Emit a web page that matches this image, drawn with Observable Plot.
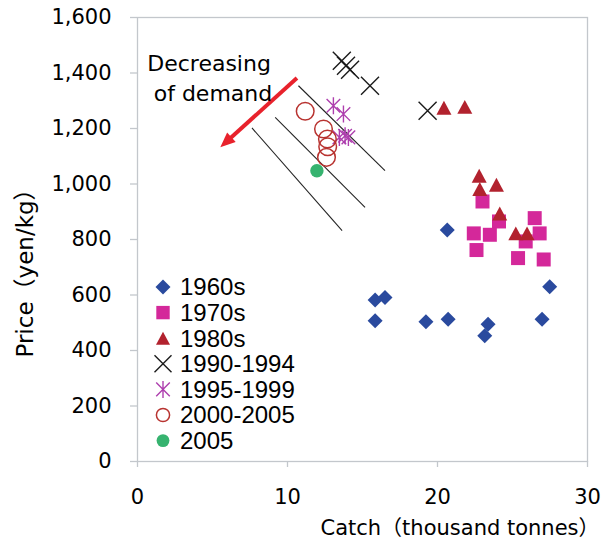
<!DOCTYPE html>
<html><head><meta charset="utf-8">
<script src="https://cdn.jsdelivr.net/npm/d3@7"></script>
<script src="https://cdn.jsdelivr.net/npm/@observablehq/plot@0.6"></script>
<style>
body{margin:0;background:#fff;}
#wrap{position:relative;width:603px;height:542px;}
#legend{position:absolute;left:0;top:0;pointer-events:none;}
</style></head><body><div id="wrap"></div>
<script>
// ---- data (catch in thousand tonnes, price in yen/kg) ----
const catch1960s = [20.65, 15.84, 16.5, 15.84, 19.23, 20.71, 23.37, 23.15, 27.48, 26.97];
const price1960s = [834, 582, 591, 507, 504, 513, 495, 453, 630, 513];
const catch1970s = [23.0, 24.1, 26.48, 22.42, 23.49, 26.81, 25.88, 22.6, 25.37, 27.08];
const price1970s = [937, 865, 877, 822, 817, 822, 793, 762, 733, 728];
const catch1980s = [20.43, 21.82, 22.78, 22.82, 23.93, 24.15, 25.22, 25.97];
const price1980s = [1275, 1278, 1030, 982, 997, 894, 822, 822];
const catch1990_94 = [13.62, 13.9, 14.17, 15.5, 19.34];
const price1990_94 = [1444, 1426, 1412, 1354, 1264];
const catch1995_99 = [13.06, 13.73, 13.46, 13.84, 14.06];
const price1995_99 = [1282, 1252, 1168, 1174, 1168];
const catch2000_05 = [11.18, 12.4, 12.66, 12.68, 12.6];
const price2000_05 = [1262, 1198, 1162, 1134, 1096];
const catch2005 = [11.96];
const price2005 = [1048];

const legendLabels = ["1960s", "1970s", "1980s", "1990-1994", "1995-1999", "2000-2005", "2005"];
const xTicks = [0, 10, 20, 30];
const yTicks = [0, 200, 400, 600, 800, 1000, 1200, 1400, 1600];
const xTitle = "Catch（thousand tonnes）";
const yTitle = "Price（yen/kg）";

// annotation: demand lines, arrow, text (data units)
const demandX1 = [10.73, 9.18, 7.63];
const demandY1 = [1354, 1240, 1202];
const demandX2 = [16.5, 15.17, 13.64];
const demandY2 = [1048, 916, 832];
const arrowX = [10.63, 5.52];
const arrowY = [1382, 1132];
const noteText = ["Decreasing", "of demand"];
const noteX = [0.65, 1.08];
const noteY = [1432, 1324];

// ---- layout ----
const W = 603, H = 542, mL = 137, mR = 16, mT = 17, mB = 81;
const xS = d3.scaleLinear([0, 30], [mL, W - mR]);
const yS = d3.scaleLinear([0, 1600], [H - mB, mT]);

// ---- symbols ----
const rad = (size) => Math.sqrt(size / Math.PI);
const symDiamond = {draw(c, s){const r=rad(s); c.moveTo(0,-r); c.lineTo(r,0); c.lineTo(0,r); c.lineTo(-r,0); c.closePath();}};
const symSquare = {draw(c, s){const r=rad(s); c.moveTo(-r,-r); c.lineTo(r,-r); c.lineTo(r,r); c.lineTo(-r,r); c.closePath();}};
const symTriangle = {draw(c, s){const r=rad(s); const h=0.93*r; c.moveTo(0,-h); c.lineTo(r,h); c.lineTo(-r,h); c.closePath();}};
const symTimes = {draw(c, s){const r=rad(s); c.moveTo(-r,-r); c.lineTo(r,r); c.moveTo(-r,r); c.lineTo(r,-r);}};
const symStar = {draw(c, s){const r=rad(s); const a=r*0.8; c.moveTo(-a,-a); c.lineTo(a,a); c.moveTo(-a,a); c.lineTo(a,-a); c.moveTo(0,-r); c.lineTo(0,r);}};
const symCircle = {draw(c, s){const r=rad(s); c.moveTo(r,0); c.arc(0,0,r,0,2*Math.PI);}};
const symHead = {draw(c, s){const r=rad(s); c.moveTo(0,0); c.lineTo(-2*r,-0.85*r); c.lineTo(-2*r,0.85*r); c.closePath();}};

const cBlue = "#2a4a9e", cMag = "#d4289a", cRed = "#b2222e", cBlack = "#1a1a1a",
      cPurple = "#ae3fae", cCircle = "#b83330", cGreen = "#36b36f", cArrow = "#e8222c";

const series = [
  {label: legendLabels[0], xs: catch1960s, ys: price1960s, sym: symDiamond, r: 7.5, fill: cBlue, stroke: "none", sw: 0, lr: 7.5},
  {label: legendLabels[1], xs: catch1970s, ys: price1970s, sym: symSquare, r: 7, fill: cMag, stroke: "none", sw: 0, lr: 6.7},
  {label: legendLabels[2], xs: catch1980s, ys: price1980s, sym: symTriangle, r: 7.5, fill: cRed, stroke: "none", sw: 0, lr: 7},
  {label: legendLabels[3], xs: catch1990_94, ys: price1990_94, sym: symTimes, r: 9, fill: "none", stroke: cBlack, sw: 1.4, lr: 8.5},
  {label: legendLabels[4], xs: catch1995_99, ys: price1995_99, sym: symStar, r: 8.5, fill: "none", stroke: cPurple, sw: 1.4, lr: 8.5},
  {label: legendLabels[5], xs: catch2000_05, ys: price2000_05, sym: symCircle, r: 8.8, fill: "none", stroke: cCircle, sw: 1.5, lr: 6.6},
  {label: legendLabels[6], xs: catch2005, ys: price2005, sym: symCircle, r: 6.7, fill: cGreen, stroke: "none", sw: 0, lr: 6.4}
];

const font = "'Liberation Sans', Arial, 'Noto Sans CJK JP', sans-serif";
const wideFont = "'DejaVu Sans', 'Noto Sans CJK JP', sans-serif";
const gray = "#c3c7cc";

const dotMarks = series.map(s => Plot.dot(d3.zip(s.xs, s.ys), {
  x: d => d[0], y: d => d[1], symbol: s.sym, r: s.r,
  fill: s.fill, stroke: s.stroke, strokeWidth: s.sw
}));

const demand = d3.range(demandX1.length);

// arrow geometry in screen space (for the filled head)
const ax0 = xS(arrowX[0]), ay0 = yS(arrowY[0]), ax1 = xS(arrowX[1]), ay1 = yS(arrowY[1]);
const headAngle = Math.atan2(ay1 - ay0, ax1 - ax0) * 180 / Math.PI;
const shaftFrac = 1 - 9 / Math.hypot(ax1 - ax0, ay1 - ay0);

const chart = Plot.plot({
  width: W, height: H,
  marginLeft: mL, marginRight: mR, marginTop: mT, marginBottom: mB,
  x: {domain: [0, 30]},
  y: {domain: [0, 1600]},
  style: {fontFamily: font, background: "white", color: "black"},
  marks: [
    Plot.frame({stroke: gray, strokeWidth: 1.3}),
    Plot.axisX({ticks: xTicks, tickSize: 6, text: null, stroke: gray, strokeWidth: 1.3, label: null}),
    Plot.axisX({ticks: xTicks, tickSize: 0, tickPadding: 28, fontSize: 21, fontFamily: wideFont, fill: "black", label: null}),
    Plot.axisY({ticks: yTicks, tickSize: 7, text: null, stroke: gray, strokeWidth: 1.3, label: null}),
    Plot.axisY({ticks: yTicks, tickSize: 0, tickPadding: 26, fontSize: 21, fontFamily: wideFont, fill: "black", tickFormat: d3.format(","), label: null}),
    Plot.text([xTitle], {frameAnchor: "bottom-left", textAnchor: "start", lineAnchor: "middle", dx: 183, dy: 67, fontSize: 21, fontFamily: wideFont, fill: "black"}),
    Plot.text([yTitle], {frameAnchor: "left", rotate: -90, textAnchor: "middle", lineAnchor: "middle", dx: -112, dy: 28, fontSize: 23, fontFamily: wideFont, fill: "black", style: "letter-spacing:2px"}),
    Plot.link(demand, {x1: i => demandX1[i], y1: i => demandY1[i], x2: i => demandX2[i], y2: i => demandY2[i], stroke: "#222", strokeWidth: 1.1}),
    Plot.link([0], {x1: () => arrowX[0], y1: () => arrowY[0],
      x2: () => arrowX[0] + (arrowX[1] - arrowX[0]) * shaftFrac,
      y2: () => arrowY[0] + (arrowY[1] - arrowY[0]) * shaftFrac,
      stroke: cArrow, strokeWidth: 4}),
    Plot.dot([0], {x: () => arrowX[1], y: () => arrowY[1], symbol: symHead, r: 7.5, rotate: headAngle, fill: cArrow, stroke: "none"}),
    Plot.text(noteText, {x: (d, i) => noteX[i], y: (d, i) => noteY[i], text: d => d, textAnchor: "start", lineAnchor: "middle", fontSize: 22, fontFamily: wideFont, fill: "black"}),
    ...dotMarks
  ]
});
document.getElementById("wrap").appendChild(chart);

// ---- legend overlay ----
const leg = d3.select("#wrap").append("svg").attr("id", "legend").attr("width", W).attr("height", H);
const legX = 163, legTextX = 180, legY0 = 287, legDy = 25.6;
series.forEach((s, i) => {
  const p = d3.path();
  s.sym.draw(p, Math.PI * s.lr * s.lr);
  const y = legY0 + i * legDy;
  leg.append("path").attr("d", p.toString()).attr("transform", `translate(${legX},${y})`)
    .attr("fill", s.fill).attr("stroke", s.stroke).attr("stroke-width", s.sw || null);
  leg.append("text").attr("x", legTextX).attr("y", y).attr("dy", "0.35em")
    .attr("font-family", font).attr("font-size", 24).attr("fill", "black").text(s.label);
});
</script></body></html>
